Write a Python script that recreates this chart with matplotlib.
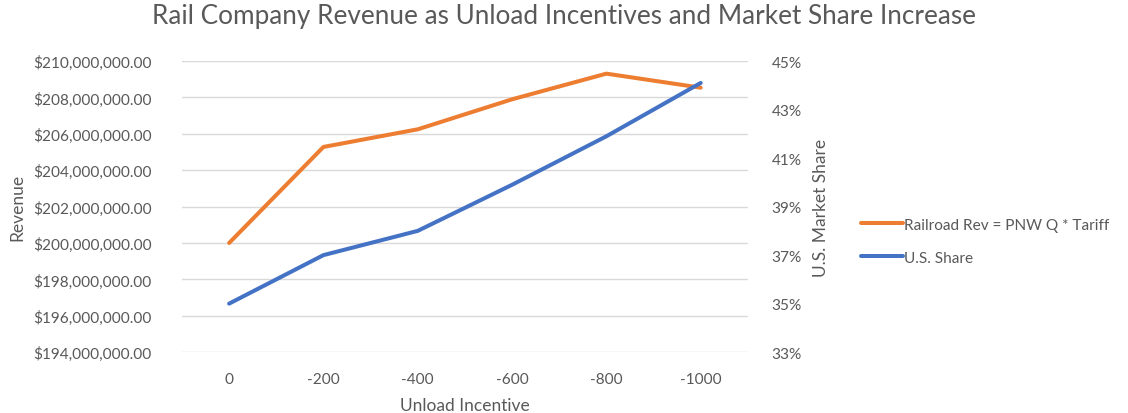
import matplotlib.pyplot as plt
from matplotlib.ticker import FuncFormatter, MultipleLocator

# incentive levels and the two series
incentive = ['0', '-200', '-400', '-600', '-800', '-1000']
railroad_rev = [200000000, 205280000, 206250000, 207900000, 209310000, 208540000]
us_share = [35.0, 37.0, 38.0, 39.9, 41.9, 44.1]  # percent

grey = '#595959'
plt.rcParams['font.family'] = ['Lato', 'DejaVu Sans']

fig = plt.figure(figsize=(11.28, 4.14), dpi=100)
ax = fig.add_axes([0.1613, 0.147, 0.5017, 0.703])
ax2 = ax.twinx()

x = range(len(incentive))
l1, = ax.plot(x, railroad_rev, color='#ED7D31', lw=2.9, solid_capstyle='round',
              label='Railroad Rev = PNW Q * Tariff', zorder=3)
l2, = ax2.plot(x, us_share, color='#4472C4', lw=2.9, solid_capstyle='round',
               label='U.S. Share', zorder=3)

ax.set_xlim(-0.5, 5.5)
ax.set_ylim(194000000, 210000000)
ax.yaxis.set_major_locator(MultipleLocator(2000000))
ax.yaxis.set_major_formatter(FuncFormatter(lambda v, p: '${:,.2f}'.format(v)))
ax2.set_ylim(33, 45)
ax2.set_yticks(list(range(33, 46, 2)))
ax2.yaxis.set_major_formatter(FuncFormatter(lambda v, p: '{:.0f}%'.format(v)))

ax.set_xticks(list(x))
ax.set_xticklabels(incentive)
ax.grid(axis='y', color='#d9d9d9', lw=1)
ax.set_axisbelow(True)

for a in (ax, ax2):
    for s in a.spines.values():
        s.set_visible(False)
    a.tick_params(length=0, colors=grey, labelsize=11.1)
ax.tick_params(axis='y', pad=22)
ax.tick_params(axis='x', pad=14)
ax2.tick_params(axis='y', pad=17)

ax.set_xlabel('Unload Incentive', color=grey, fontsize=12.5, labelpad=8)
ax.set_ylabel('Revenue', color=grey, fontsize=12.5, labelpad=5)
ax2.set_ylabel('U.S. Market Share', color=grey, fontsize=12.5, labelpad=8)

fig.suptitle('Rail Company Revenue as Unload Incentives and Market Share Increase',
             color=grey, fontsize=18.8, y=0.99)

fig.legend(handles=[l1, l2], loc='center left', bbox_to_anchor=(0.751, 0.415),
           frameon=False, fontsize=11.1, labelcolor=grey, handlelength=2.7,
           handletextpad=0.1, labelspacing=1.25)

fig.savefig('out.png', dpi=100)
